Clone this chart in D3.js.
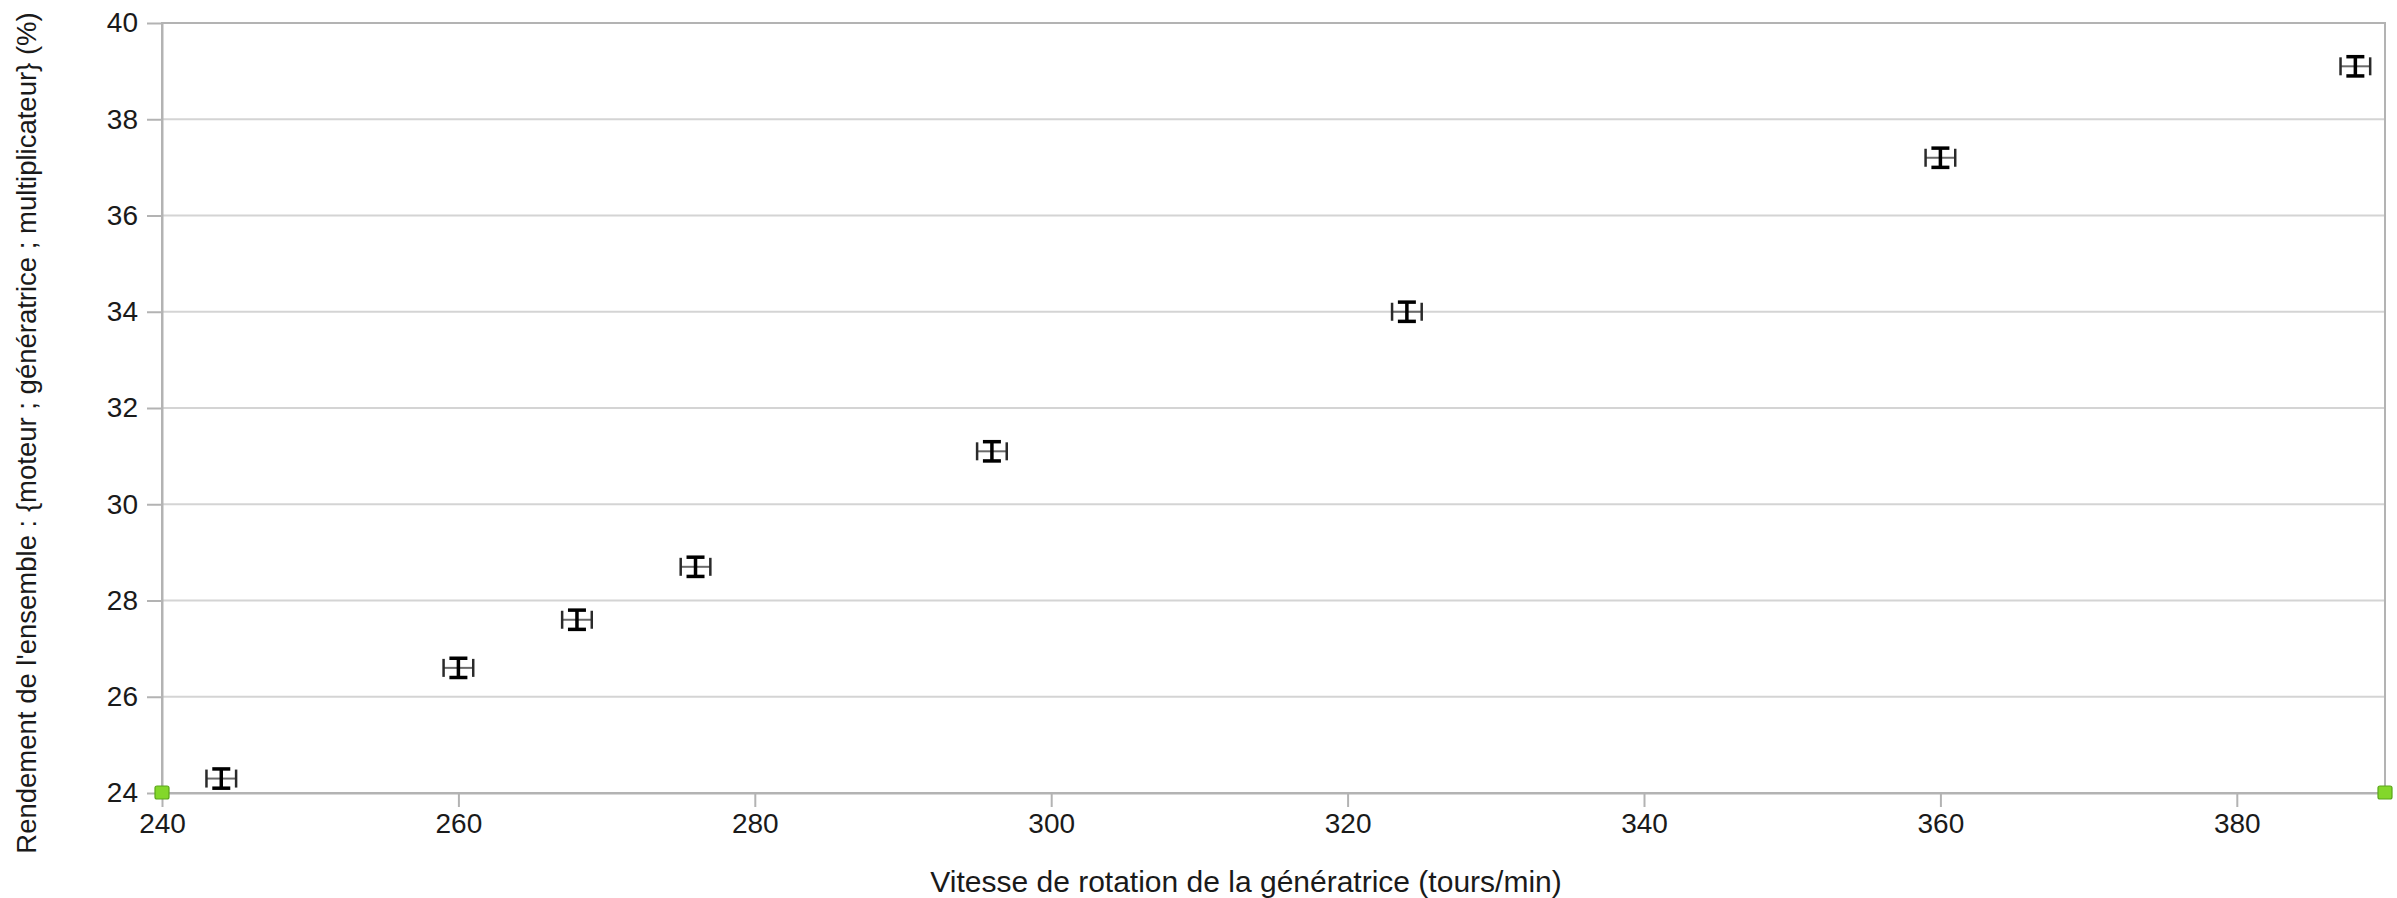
<!DOCTYPE html>
<html>
<head>
<meta charset="utf-8">
<script src="https://cdn.jsdelivr.net/npm/d3@7"></script>
<style>
  html, body { margin: 0; padding: 0; background: #ffffff; }
  svg { display: block; }
  text { font-family: "Liberation Sans", Arial, sans-serif; fill: #1a1a1a; }
</style>
</head>
<body>
<svg id="chart" width="2397" height="898"></svg>
<script>
// Generator speed (rpm) and overall efficiency (%) of motor + generator + gearbox
const speed = [244, 260, 268, 276, 296, 324, 360, 388];
const efficiency = [24.3, 26.6, 27.6, 28.7, 31.1, 34.0, 37.2, 39.1];
const speedError = [1, 1, 1, 1, 1, 1, 1, 1];
const efficiencyError = [0.2, 0.2, 0.2, 0.2, 0.2, 0.2, 0.2, 0.2];

// Corner markers of the range series
const rangeX = [240, 390];
const rangeY = [24, 24];

const xTicks = [240, 260, 280, 300, 320, 340, 360, 380];
const yTicks = [24, 26, 28, 30, 32, 34, 36, 38, 40];

const xTitle = "Vitesse de rotation de la génératrice (tours/min)";
const yTitle = "Rendement de l'ensemble : {moteur ; génératrice ; multiplicateur} (%)";

const margin = { left: 162, right: 12, top: 23, bottom: 105 };
const W = 2397, H = 898;
const svg = d3.select("#chart");

const x = d3.scaleLinear().domain([240, 390]).range([margin.left, W - margin.right]);
const y = d3.scaleLinear().domain([24, 40]).range([H - margin.bottom, margin.top]);

const axisColor = "#b3b3b3";
const gridColor = "#d4d4d4";

// horizontal grid
svg.append("g")
  .selectAll("line")
  .data(yTicks)
  .join("line")
  .attr("x1", x.range()[0]).attr("x2", x.range()[1])
  .attr("y1", d => y(d)).attr("y2", d => y(d))
  .attr("stroke", gridColor).attr("stroke-width", 2);

// frame
svg.append("rect")
  .attr("x", x.range()[0]).attr("y", y.range()[1])
  .attr("width", x.range()[1] - x.range()[0])
  .attr("height", y.range()[0] - y.range()[1])
  .attr("fill", "none").attr("stroke", axisColor).attr("stroke-width", 2);

// axes
const xAxis = d3.axisBottom(x).tickValues(xTicks).tickSize(14).tickPadding(6).tickSizeOuter(0);
const gx = svg.append("g").attr("transform", `translate(0,${y.range()[0]})`).call(xAxis);
gx.select(".domain").attr("stroke", axisColor).attr("stroke-width", 2);
gx.selectAll(".tick line").attr("stroke", axisColor).attr("stroke-width", 2);
gx.selectAll(".tick text").attr("font-size", 28).attr("fill", "#1a1a1a")
  .attr("font-family", "Liberation Sans, Arial, sans-serif");

const yAxis = d3.axisLeft(y).tickValues(yTicks).tickSize(15).tickPadding(9).tickSizeOuter(0);
const gy = svg.append("g").attr("transform", `translate(${x.range()[0]},0)`).call(yAxis);
gy.select(".domain").attr("stroke", axisColor).attr("stroke-width", 2);
gy.selectAll(".tick line").attr("stroke", axisColor).attr("stroke-width", 2);
gy.selectAll(".tick text").attr("font-size", 28).attr("fill", "#1a1a1a")
  .attr("font-family", "Liberation Sans, Arial, sans-serif");

// axis titles
svg.append("text")
  .attr("x", 1246).attr("y", 892)
  .attr("text-anchor", "middle")
  .attr("font-size", 30)
  .text(xTitle);

svg.append("text")
  .attr("transform", "translate(36,433) rotate(-90)")
  .attr("text-anchor", "middle")
  .attr("font-size", 27.5)
  .text(yTitle);

// data with error bars
const pts = speed.map((s, i) => ({ s, e: efficiency[i], ds: speedError[i], de: efficiencyError[i] }));
const g = svg.append("g");
const hCap = 9, vCap = 9;

// horizontal error bars
g.selectAll(".hbar").data(pts).join("line")
  .attr("x1", d => x(d.s - d.ds)).attr("x2", d => x(d.s + d.ds))
  .attr("y1", d => y(d.e)).attr("y2", d => y(d.e))
  .attr("stroke", "#6a6a6a").attr("stroke-width", 2);
g.selectAll(".hcapL").data(pts).join("line")
  .attr("x1", d => x(d.s - d.ds)).attr("x2", d => x(d.s - d.ds))
  .attr("y1", d => y(d.e) - hCap).attr("y2", d => y(d.e) + hCap)
  .attr("stroke", "#2a2a2a").attr("stroke-width", 2.5);
g.selectAll(".hcapR").data(pts).join("line")
  .attr("x1", d => x(d.s + d.ds)).attr("x2", d => x(d.s + d.ds))
  .attr("y1", d => y(d.e) - hCap).attr("y2", d => y(d.e) + hCap)
  .attr("stroke", "#2a2a2a").attr("stroke-width", 2.5);

// vertical error bars
g.selectAll(".vbar").data(pts).join("line")
  .attr("x1", d => x(d.s)).attr("x2", d => x(d.s))
  .attr("y1", d => y(d.e - d.de)).attr("y2", d => y(d.e + d.de))
  .attr("stroke", "#000").attr("stroke-width", 3.5);
g.selectAll(".vcapT").data(pts).join("line")
  .attr("x1", d => x(d.s) - vCap).attr("x2", d => x(d.s) + vCap)
  .attr("y1", d => y(d.e + d.de)).attr("y2", d => y(d.e + d.de))
  .attr("stroke", "#000").attr("stroke-width", 3.5);
g.selectAll(".vcapB").data(pts).join("line")
  .attr("x1", d => x(d.s) - vCap).attr("x2", d => x(d.s) + vCap)
  .attr("y1", d => y(d.e - d.de)).attr("y2", d => y(d.e - d.de))
  .attr("stroke", "#000").attr("stroke-width", 3.5);

// range markers
svg.append("g").selectAll("rect")
  .data(rangeX.map((v, i) => ({ v, w: rangeY[i] })))
  .join("rect")
  .attr("x", d => x(d.v) - 7).attr("y", d => y(d.w) - 7)
  .attr("width", 14).attr("height", 13).attr("rx", 2)
  .attr("fill", "#83d72a").attr("stroke", "#5aa51a").attr("stroke-width", 1.2);
</script>
</body>
</html>
